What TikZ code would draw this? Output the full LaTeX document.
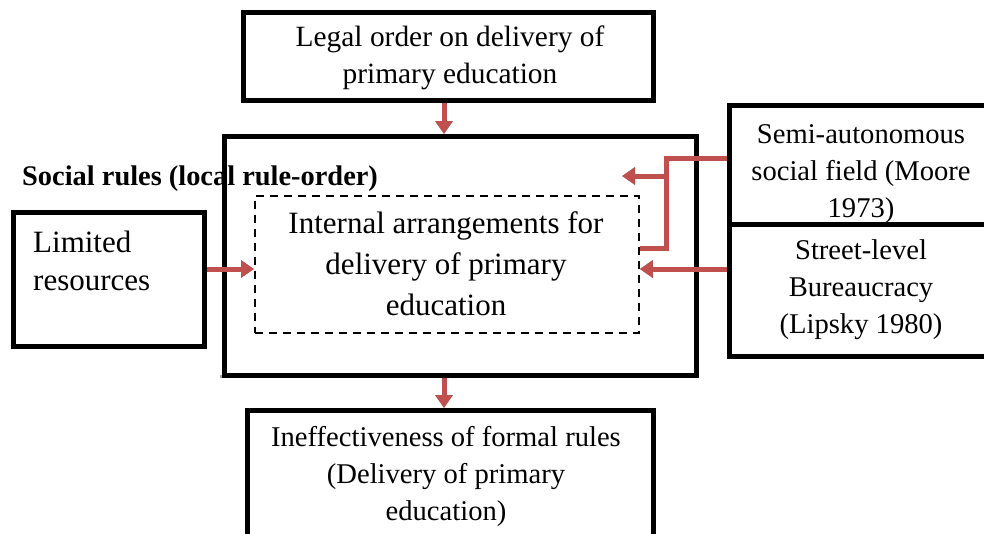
\documentclass[tikz,border=0pt]{standalone}
\usepackage{fontspec}
\setmainfont{Liberation Serif}
\usetikzlibrary{arrows.meta}
\definecolor{arrowred}{HTML}{C0504D}
\definecolor{shadowgray}{HTML}{A6A6A6}
\begin{document}
\begin{tikzpicture}[x=1pt,y=-1pt,
  box/.style={draw=black,line width=4.5pt,fill=white,inner sep=0pt,anchor=north west},
  dashbox/.style={draw=black,line width=1.8pt,dash pattern=on 8pt off 6pt,inner sep=0pt,anchor=north west},
  txt/.style={font=\fontsize{28.6}{37}\selectfont,align=center,anchor=base,inner sep=0pt},
  bigtxt/.style={font=\fontsize{31}{41}\selectfont,inner sep=0pt},
  flow/.style={draw=arrowred,line width=5pt,-{Triangle[length=13pt,width=17pt]}},
  flowshadow/.style={draw=shadowgray,line width=5pt,-{Triangle[length=13pt,width=17pt]},shift={(2,2)}},
  joint/.style={draw=arrowred,line width=5pt},
  jointshadow/.style={draw=shadowgray,line width=5pt,shift={(2,2)}}
]
\useasboundingbox (0,0) rectangle (984,533);

% boxes (text nodes are placed by the baseline of their last line)
\node[box,minimum width=410pt,minimum height=88pt] (legal) at (241,10) {};
\node[txt,font=\fontsize{29.4}{37}\selectfont] (legaltxt) at (450,83) {Legal order on delivery of\\primary education};

\draw[shadowgray,line width=3pt] (220,376) -- (697,376);
\node[box,minimum width=472pt,minimum height=239pt,fill=none] (main) at (222,134) {};
\node[font=\fontsize{28.4}{34}\selectfont\bfseries,anchor=base west,inner sep=0pt] (social) at (22,185) {Social rules (local rule-order)};

\node[dashbox,minimum width=384pt,minimum height=137pt] (inner) at (254,195) {};
\node[bigtxt,align=center,anchor=base] (innertxt) at (446,315) {Internal arrangements for\\delivery of primary\\education};

\node[box,minimum width=191pt,minimum height=134pt] (limited) at (11,210) {};
\node[font=\fontsize{31}{38}\selectfont,align=left,anchor=base west,inner sep=0pt] (limitedtxt) at (33,290) {Limited\\resources};

\node[box,minimum width=270pt,minimum height=119pt] (semi) at (727,103) {};
\node[txt] (semitxt) at (861,217) {Semi-autonomous\\social field (Moore\\1973)};
\node[box,minimum width=270pt,minimum height=132pt] (street) at (727,222) {};
\node[txt] (streettxt) at (861,333) {Street-level\\Bureaucracy\\(Lipsky 1980)};

\node[box,minimum width=406pt,minimum height=140pt] (result) at (245,408) {};
\node[txt] (resulttxt) at (446,520) {Ineffectiveness of formal rules\\(Delivery of primary\\education)};

% helper points for the connectors
\coordinate (colA) at (444,0);
\coordinate (rowA) at (0,269);
\coordinate (bendA) at (666,158);
\coordinate (bendB) at (666,248);
\coordinate (branch) at (666,176);
\coordinate (branchtip) at (622,176);
\coordinate (endB) at (640,248);

% connector shadows
\draw[flowshadow] (legal.south -| colA) -- (main.north -| colA);
\draw[flowshadow] (main.south -| colA) -- (result.north -| colA);
\draw[flowshadow] (limited.east |- rowA) -- (inner.west |- rowA);
\draw[flowshadow] (street.west |- rowA) -- (inner.east |- rowA);
\draw[jointshadow] (semi.west |- bendA) -- (bendA) -- (bendB) -- (endB);
\draw[flowshadow] (branch) -- (branchtip);

% connectors
\draw[flow] (legal.south -| colA) -- (main.north -| colA);
\draw[flow] (main.south -| colA) -- (result.north -| colA);
\draw[flow] (limited.east |- rowA) -- (inner.west |- rowA);
\draw[flow] (street.west |- rowA) -- (inner.east |- rowA);
\draw[joint] (semi.west |- bendA) -- (bendA) -- (bendB) -- (endB);
\draw[flow] (branch) -- (branchtip);
\end{tikzpicture}
\end{document}
